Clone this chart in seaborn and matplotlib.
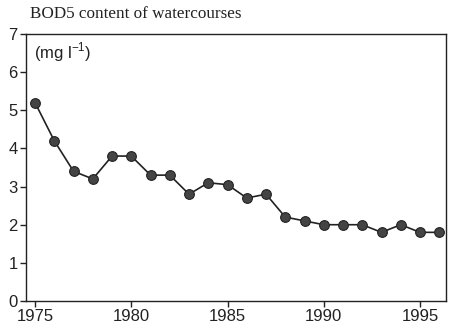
import matplotlib
matplotlib.use("Agg")
import matplotlib.pyplot as plt
import seaborn as sns
import pandas as pd

years = [1975, 1976, 1977, 1978, 1979, 1980, 1981, 1982, 1983, 1984, 1985,
         1986, 1987, 1988, 1989, 1990, 1991, 1992, 1993, 1994, 1995, 1996]
bod5 = [5.2, 4.2, 3.4, 3.2, 3.8, 3.8, 3.3, 3.3, 2.8, 3.1, 3.05,
        2.7, 2.8, 2.2, 2.1, 2.0, 2.0, 2.0, 1.8, 2.0, 1.8, 1.8]
x_ticks = [1975, 1980, 1985, 1990, 1995]
y_ticks = [0, 1, 2, 3, 4, 5, 6, 7]

sns.set_theme(style="ticks")
plt.rcParams['font.family'] = ['Liberation Sans', 'DejaVu Sans']

df = pd.DataFrame({"year": years, "bod5": bod5})

fig = plt.figure(figsize=(4.55, 3.33), dpi=100)
ax = fig.add_axes([26/455, 1 - 301/333, (446-26)/455, (301-34)/333])

sns.lineplot(data=df, x="year", y="bod5", ax=ax, color="#222222", linewidth=1.2,
             marker="o", markersize=7, markerfacecolor="#444444",
             markeredgecolor="#222222", markeredgewidth=0.8)

ax.set_xlim(1974.53, 1996.35)
ax.set_ylim(0, 7)
ax.set_xticks(x_ticks)
ax.set_yticks(y_ticks)
ax.tick_params(axis="both", labelsize=12, length=4, width=1, color="#222222",
               labelcolor="#222222", pad=2)
ax.set_xlabel("")
ax.set_ylabel("")
for s in ax.spines.values():
    s.set_color("#222222")
    s.set_linewidth(1.0)

ax.text(0.018, 0.975, "(mg l$^{\\mathregular{-1}}$)", transform=ax.transAxes, ha="left", va="top",
        fontsize=12, color="#222222")
fig.text(30/455, 1 - 14/333, "BOD5 content of watercourses", ha="left", va="center",
         fontsize=12.3, color="#222222", family=["Liberation Serif", "DejaVu Serif"])

fig.savefig("out.png", dpi=100)
